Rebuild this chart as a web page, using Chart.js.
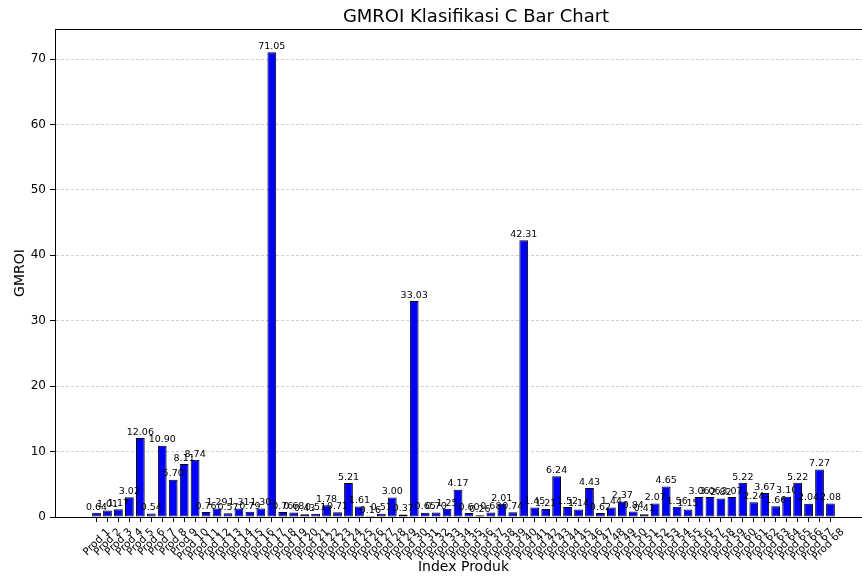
<!DOCTYPE html>
<html>
<head>
<meta charset="utf-8">
<script src="https://cdn.jsdelivr.net/npm/chart.js@4"></script>
<style>
  html, body { margin: 0; padding: 0; overflow: hidden; background: #fff; }
  #wrap { width: 862px; height: 576px; overflow: hidden; }
</style>
</head>
<body>
<div id="wrap"><canvas id="chart" width="952" height="576"></canvas></div>
<script>
// --- Dados ---
const produkLabels = [];
for (let i = 1; i <= 68; i++) produkLabels.push('Prod ' + i);

const gmroiValues = [
  0.64, 1.01, 1.17, 3.02, 12.06, 0.54, 10.90, 5.70, 8.11, 8.74,
  0.76, 1.29, 0.57, 1.31, 0.79, 1.30, 71.05, 0.76, 0.68, 0.43,
  0.51, 1.78, 0.71, 5.21, 1.61, 0.16, 0.51, 3.00, 0.37, 33.03,
  0.65, 0.70, 1.25, 4.17, 0.60, 0.26, 0.68, 2.01, 0.74, 42.31,
  1.45, 1.21, 6.24, 1.52, 1.14, 4.43, 0.62, 1.44, 2.37, 0.84,
  0.41, 2.07, 4.65, 1.56, 1.15, 3.06, 3.06, 2.82, 3.07, 5.22,
  2.24, 3.67, 1.66, 3.10, 5.22, 2.04, 7.27, 2.08
];

const yTicks = [0, 10, 20, 30, 40, 50, 60, 70];

const chartTitle = 'GMROI Klasifikasi C Bar Chart';
const FONT = "'DejaVu Sans', sans-serif";

// rótulos de valor acima de cada barra
const valueLabels = {
  id: 'valueLabels',
  afterDatasetsDraw(chart) {
    const ctx = chart.ctx;
    const meta = chart.getDatasetMeta(0);
    ctx.save();
    ctx.font = '9.5px ' + FONT;
    ctx.fillStyle = '#000';
    ctx.textAlign = 'center';
    ctx.textBaseline = 'bottom';
    meta.data.forEach((bar, i) => {
      ctx.fillText(gmroiValues[i].toFixed(2), bar.x, bar.y - 1);
    });
    ctx.restore();
  }
};

// moldura superior e título
const frameAndTitle = {
  id: 'frameAndTitle',
  afterDraw(chart) {
    const a = chart.chartArea;
    const ctx = chart.ctx;
    ctx.save();
    ctx.strokeStyle = '#000';
    ctx.lineWidth = 1;
    ctx.beginPath();
    ctx.moveTo(a.left, a.top + 0.5);
    ctx.lineTo(a.right, a.top + 0.5);
    ctx.stroke();
    ctx.font = '18px ' + FONT;
    ctx.fillStyle = '#000';
    ctx.textAlign = 'center';
    ctx.textBaseline = 'middle';
    ctx.fillText(chartTitle, 476, 17);
    ctx.restore();
  }
};

const ctx = document.getElementById('chart').getContext('2d');

new Chart(ctx, {
  type: 'bar',
  data: {
    datasets: [{
      label: 'GMROI',
      data: gmroiValues.map((v, i) => ({ x: i, y: v })),
      backgroundColor: '#0000ff',
      borderColor: '#000000',
      borderWidth: 1,
      borderSkipped: false,
      barPercentage: 0.8,
      categoryPercentage: 1.0
    }]
  },
  options: {
    responsive: false,
    animation: false,
    devicePixelRatio: 1,
    layout: { padding: { left: 0, right: 80, top: 29, bottom: 0 } },
    plugins: {
      legend: { display: false },
      tooltip: { enabled: false },
      title: { display: false }
    },
    scales: {
      x: {
        type: 'linear',
        offset: false,
        min: -3.79,
        max: 70.79,
        afterBuildTicks(scale) {
          scale.ticks = produkLabels.map((_, i) => ({ value: i }));
        },
        afterFit(scale) { scale.height = 59; },
        ticks: {
          autoSkip: false,
          maxRotation: 45,
          minRotation: 45,
          padding: 4,
          labelOffset: 12,
          color: '#000',
          font: { family: FONT, size: 10.5 },
          callback: (v) => produkLabels[v]
        },
        grid: {
          display: true,
          offset: false,
          drawOnChartArea: false,
          drawTicks: true,
          tickLength: 5,
          tickColor: '#000'
        },
        border: { display: true, color: '#000', width: 1 },
        title: {
          display: true,
          text: 'Index Produk',
          color: '#000',
          font: { family: FONT, size: 14 },
          padding: { top: 0, bottom: 0 }
        }
      },
      y: {
        min: 0,
        max: 74.6,
        afterBuildTicks(scale) {
          scale.ticks = yTicks.map(v => ({ value: v }));
        },
        afterFit(scale) { scale.width = 55; },
        ticks: {
          color: '#000',
          padding: 4,
          font: { family: FONT, size: 12 }
        },
        grid: {
          color: 'rgba(176,176,176,0.6)',
          tickColor: '#000',
          tickBorderDash: [1, 0],
          tickLength: 5
        },
        border: { display: true, color: '#000', width: 1, dash: [3, 2] },
        title: {
          display: true,
          text: 'GMROI',
          color: '#000',
          font: { family: FONT, size: 14 },
          padding: { top: 12, bottom: 0 }
        }
      }
    }
  },
  plugins: [valueLabels, frameAndTitle]
});
</script>
</body>
</html>
